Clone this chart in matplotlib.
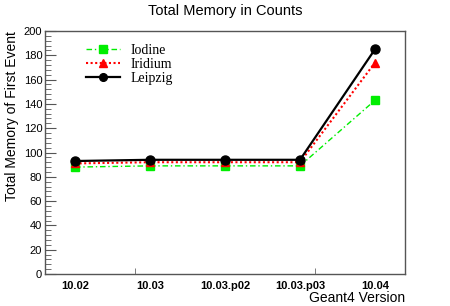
import numpy as np
import matplotlib
matplotlib.use("Agg")
import matplotlib.pyplot as plt

# Data
versions = ["10.02", "10.03", "10.03.p02", "10.03.p03", "10.04"]
iodine = [88, 89, 89, 89, 143]
iridium = [91, 92, 92, 92, 174]
leipzig = [93, 94, 94, 94, 185]

plt.rcParams['font.family'] = ['Liberation Sans', 'DejaVu Sans']

fig = plt.figure(figsize=(4.5, 3.06), dpi=100)
ax = fig.add_axes([0.1, 0.1046, 0.8, 0.794])

x = np.arange(len(versions))
ax.plot(x, iodine, color='#00ee00', ls=(0, (4, 2, 1, 2)), lw=1.0,
        marker='s', ms=6, label='Iodine')
ax.plot(x, iridium, color='#ff0000', ls=(0, (1, 1.2)), lw=1.5,
        marker='^', ms=6, label='Iridium')
ax.plot(x, leipzig, color='black', ls='-', lw=1.6,
        marker='o', ms=6.5, label='Leipzig')

ax.set_xlim(-0.4, 4.4)
ax.set_ylim(0, 200)

ax.set_xticks(x)
ax.set_xticklabels(versions, fontweight='bold', fontsize=8)
ax.set_xticks([0.8, 2.0, 3.2], minor=True)
ax.tick_params(axis='x', which='major', length=0, pad=5)
ax.tick_params(axis='x', which='minor', direction='in', length=4, color='#666666')

ax.set_yticks(np.arange(0, 201, 20))
ax.set_yticks(np.arange(0, 201, 4), minor=True)
ax.tick_params(axis='y', which='major', direction='in', length=8, labelsize=8,
               color='#555555', pad=2)
ax.tick_params(axis='y', which='minor', direction='in', length=4, color='#555555')

for s in ax.spines.values():
    s.set_color('#555555')
    s.set_linewidth(1.0)

fig.text(0.5, 0.965, "Total Memory in Counts", ha='center', va='center', fontsize=10.5)
ax.set_ylabel("Total Memory of First Event", fontsize=10, labelpad=3, loc='top')
fig.text(0.9, 0.026, "Geant4 Version", ha='right', va='center', fontsize=10)

ax.legend(loc='upper left', bbox_to_anchor=(0.08, 1.0), frameon=False,
          prop={'family': 'Liberation Serif', 'size': 10}, handlelength=2.4,
          labelspacing=0.1, handletextpad=0.8, markerscale=0.85)

fig.savefig("out.png", dpi=100)
